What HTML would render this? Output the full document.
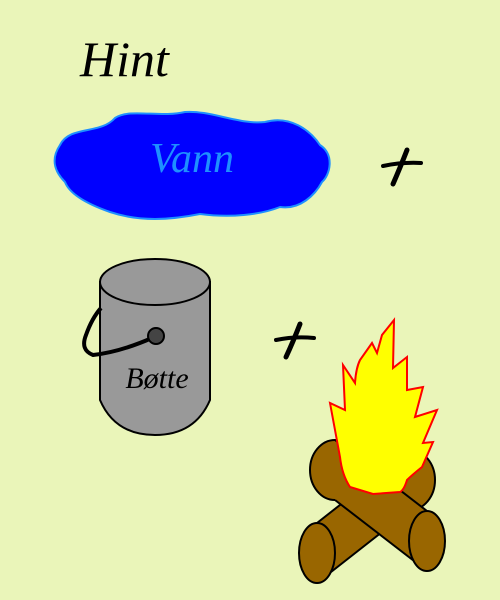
<!DOCTYPE html>
<html><head><meta charset="utf-8"><style>
html,body{margin:0;padding:0;background:#eaf5b9;}
svg{display:block;}
.s{font-family:"Liberation Serif",serif;font-style:italic;}
</style></head><body>
<svg width="500" height="600" viewBox="0 0 500 600">
<rect width="500" height="600" fill="#eaf5b9"/>
<text x="80" y="76" font-size="50" class="s" fill="#000">Hint</text>
<path d="M60,145 C70,125 100,135 115,118 C130,108 160,118 185,112 C210,110 240,125 265,122 C290,115 310,130 320,145 C335,155 330,175 322,182 C315,195 300,210 280,207 C260,215 230,218 200,214 C170,220 140,222 110,212 C90,205 70,195 65,182 C55,172 50,160 60,145 Z" fill="#0000ff" stroke="#1e90ff" stroke-width="2"/>
<text x="192" y="172" font-size="42" class="s" fill="#1e90ff" text-anchor="middle">Vann</text>
<g stroke="#000" fill="none" stroke-linecap="round">
<path d="M383,166 Q402,162 421,163" stroke-width="4"/>
<path d="M407,150 Q400,168 393,184" stroke-width="5"/>
</g>
<g>
<path d="M100,282 L100,400 Q115,435 155,435 Q195,435 210,400 L210,282 Z" fill="#999" stroke="#000" stroke-width="2"/>
<ellipse cx="155" cy="282" rx="55" ry="23" fill="#999" stroke="#000" stroke-width="2"/>
<path d="M152,338 Q120,352 93,355 Q80,350 86,335 Q92,318 101,308" fill="none" stroke="#000" stroke-width="4"/>
<circle cx="156" cy="336" r="8" fill="#444" stroke="#000" stroke-width="2"/>
</g>
<text x="157" y="388" font-size="30" class="s" fill="#000" text-anchor="middle">Bøtte</text>
<g stroke="#000" fill="none" stroke-linecap="round">
<path d="M276,340 Q295,336 314,338" stroke-width="4"/>
<path d="M300,324 Q293,342 286,357" stroke-width="5"/>
</g>
<g>
<g>
<ellipse cx="410" cy="480" rx="25" ry="30" fill="#996600" stroke="#000" stroke-width="2"/>
<polygon points="410,450 317,523 317,583 410,510" fill="#996600"/>
<line x1="410" y1="450" x2="317" y2="523" stroke="#000" stroke-width="2"/>
<line x1="410" y1="510" x2="317" y2="583" stroke="#000" stroke-width="2"/>
<ellipse cx="317" cy="553" rx="18" ry="30" fill="#996600" stroke="#000" stroke-width="2"/>
</g>
<g>
<ellipse cx="335" cy="470" rx="25" ry="30" fill="#996600" stroke="#000" stroke-width="2"/>
<polygon points="335,440 427,511 427,571 335,500" fill="#996600"/>
<line x1="335" y1="440" x2="427" y2="511" stroke="#000" stroke-width="2"/>
<line x1="335" y1="500" x2="427" y2="571" stroke="#000" stroke-width="2"/>
<ellipse cx="427" cy="541" rx="18" ry="30" fill="#996600" stroke="#000" stroke-width="2"/>
</g>
<path d="M350,487 Q342,475 340,457 L330,403 L345,410 L343,365 L355,383 Q356,368 360,360 L372,343 L377,353 L382,335 L394,320 L393,368 L407,357 L407,390 L423,387 L415,417 L437,410 L423,443 L433,442 L422,467 Q412,475 407,480 Q404,490 400,492 L373,494 Z" fill="#ffff00" stroke="#ff0000" stroke-width="2"/>
</g>
</svg>
</body></html>
